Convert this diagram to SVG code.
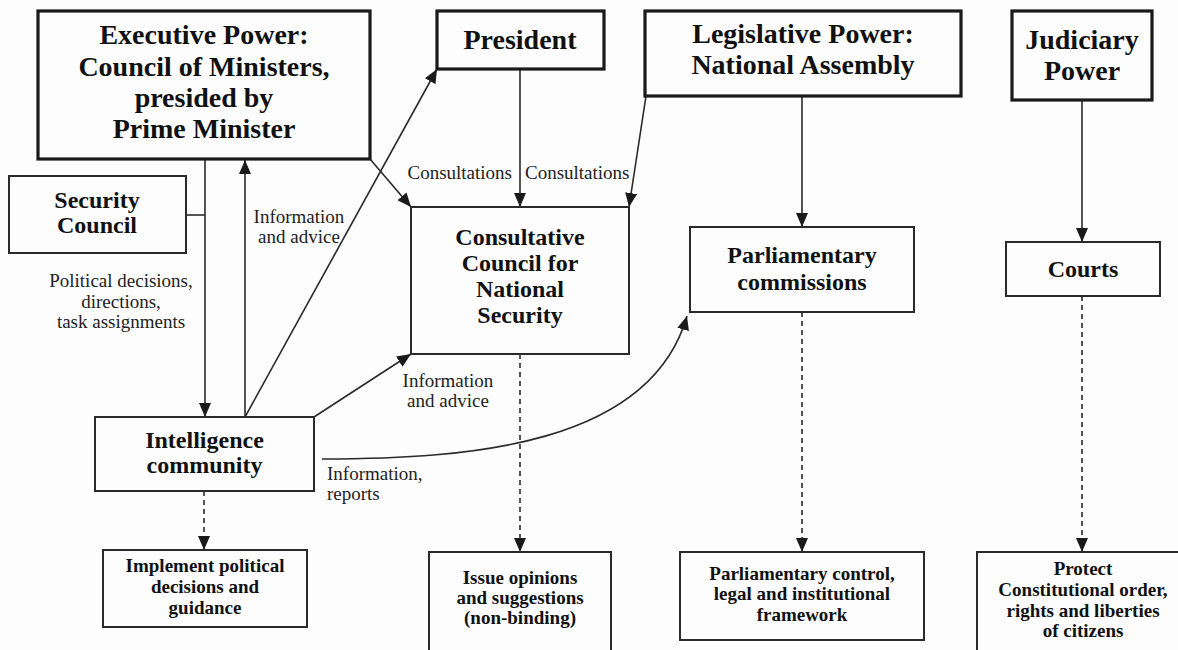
<svg xmlns="http://www.w3.org/2000/svg" width="1178" height="650" viewBox="0 0 1178 650">
<defs>
<marker id="ah" markerUnits="userSpaceOnUse" markerWidth="14" markerHeight="12" viewBox="0 0 14 12" refX="14" refY="6" orient="auto">
<path d="M0,0 L14,6 L0,12 Z" fill="#1a1a1a"/>
</marker>
<style>
.bg{fill:#fdfdfd}
.thick{fill:none;stroke:#1a1a1a;stroke-width:3.2}
.thin{fill:none;stroke:#2a2a2a;stroke-width:2}
.ln{fill:none;stroke:#2a2a2a;stroke-width:1.6}
.arr{fill:none;stroke:#2a2a2a;stroke-width:1.6;marker-end:url(#ah)}
.dash{fill:none;stroke:#2a2a2a;stroke-width:1.6;stroke-dasharray:5,4;marker-end:url(#ah)}
text{font-family:"Liberation Serif","Times New Roman",serif;fill:#111}
.big{font-size:28px;font-weight:bold;text-anchor:middle}
.mid{font-size:24px;font-weight:bold;text-anchor:middle}
.sm{font-size:19px;font-weight:bold;text-anchor:middle}
.lbl{font-size:19px;fill:#222}
</style>
</defs>
<rect class="bg" x="0" y="0" width="1178" height="650"/>

<g id="connectors">
<line class="ln" x1="186" y1="215" x2="205" y2="215"/>
<line class="arr" x1="205" y1="159" x2="205" y2="417"/>
<line class="arr" x1="245" y1="417" x2="245" y2="160"/>
<line class="arr" x1="245" y1="417" x2="437" y2="69"/>
<line class="arr" x1="370" y1="159" x2="411" y2="207"/>
<line class="arr" x1="520" y1="69" x2="520" y2="207"/>
<line class="arr" x1="646" y1="96" x2="629" y2="207"/>
<line class="arr" x1="314" y1="417" x2="411" y2="354"/>
<path class="arr" d="M322,459 C470,459 650,445 687,316"/>
<line class="arr" x1="802" y1="96" x2="802" y2="227"/>
<line class="arr" x1="1082" y1="100" x2="1082" y2="242"/>
<line class="dash" x1="204" y1="491" x2="204" y2="550"/>
<line class="dash" x1="520" y1="354" x2="520" y2="552"/>
<line class="dash" x1="802" y1="312" x2="802" y2="552"/>
<line class="dash" x1="1082" y1="296" x2="1082" y2="552"/>
</g>

<g id="labels">
<text class="lbl" text-anchor="middle" x="121" y="287">Political decisions,</text>
<text class="lbl" text-anchor="middle" x="121" y="308">directions,</text>
<text class="lbl" text-anchor="middle" x="121" y="328">task assignments</text>
<text class="lbl" text-anchor="middle" x="299" y="223">Information</text>
<text class="lbl" text-anchor="middle" x="299" y="243">and advice</text>
<text class="lbl" text-anchor="end" x="512" y="179">Consultations</text>
<text class="lbl" x="525" y="179">Consultations</text>
<text class="lbl" text-anchor="middle" x="448" y="387">Information</text>
<text class="lbl" text-anchor="middle" x="448" y="407">and advice</text>
<text class="lbl" x="327" y="480">Information,</text>
<text class="lbl" x="327" y="500">reports</text>
</g>

<g id="executive">
<rect class="thick" x="38" y="11" width="332" height="148"/>
<text class="big" x="204" y="44">Executive Power:</text>
<text class="big" x="204" y="76">Council of Ministers,</text>
<text class="big" x="204" y="107">presided by</text>
<text class="big" x="204" y="138">Prime Minister</text>
</g>

<g id="president">
<rect class="thick" x="437" y="11" width="167" height="58"/>
<text class="big" x="520" y="49">President</text>
</g>

<g id="legislative">
<rect class="thick" x="645" y="11" width="316" height="85"/>
<text class="big" x="803" y="43">Legislative Power:</text>
<text class="big" x="803" y="74">National Assembly</text>
</g>

<g id="judiciary">
<rect class="thick" x="1012" y="11" width="140" height="89"/>
<text class="big" x="1082" y="49">Judiciary</text>
<text class="big" x="1082" y="80">Power</text>
</g>

<g id="security">
<rect class="thin" x="9" y="176" width="177" height="77"/>
<text class="mid" x="97" y="208">Security</text>
<text class="mid" x="97" y="233">Council</text>
</g>

<g id="ccns">
<rect class="thin" x="411" y="207" width="218" height="147"/>
<text class="mid" x="520" y="245">Consultative</text>
<text class="mid" x="520" y="271">Council for</text>
<text class="mid" x="520" y="297">National</text>
<text class="mid" x="520" y="323">Security</text>
</g>

<g id="parlcomm">
<rect class="thin" x="690" y="227" width="224" height="85"/>
<text class="mid" x="802" y="263">Parliamentary</text>
<text class="mid" x="802" y="290">commissions</text>
</g>

<g id="courts">
<rect class="thin" x="1006" y="242" width="154" height="54"/>
<text class="mid" x="1083" y="277">Courts</text>
</g>

<g id="intelligence">
<rect class="thin" x="95" y="417" width="219" height="74"/>
<text class="mid" x="204.5" y="448">Intelligence</text>
<text class="mid" x="204.5" y="473">community</text>
</g>

<g id="implement">
<rect class="thin" x="103" y="550" width="204" height="77"/>
<text class="sm" x="205" y="572">Implement political</text>
<text class="sm" x="205" y="593">decisions and</text>
<text class="sm" x="205" y="614">guidance</text>
</g>

<g id="issue">
<rect class="thin" x="429" y="552" width="182" height="110"/>
<text class="sm" x="520" y="584">Issue opinions</text>
<text class="sm" x="520" y="604">and suggestions</text>
<text class="sm" x="520" y="624">(non-binding)</text>
</g>

<g id="parlcontrol">
<rect class="thin" x="680" y="552" width="244" height="88"/>
<text class="sm" x="802" y="580">Parliamentary control,</text>
<text class="sm" x="802" y="600">legal and institutional</text>
<text class="sm" x="802" y="621">framework</text>
</g>

<g id="protect">
<rect class="thin" x="977" y="552" width="212" height="110"/>
<text class="sm" x="1083" y="575">Protect</text>
<text class="sm" x="1083" y="596">Constitutional order,</text>
<text class="sm" x="1083" y="617">rights and liberties</text>
<text class="sm" x="1083" y="637">of citizens</text>
</g>
</svg>
